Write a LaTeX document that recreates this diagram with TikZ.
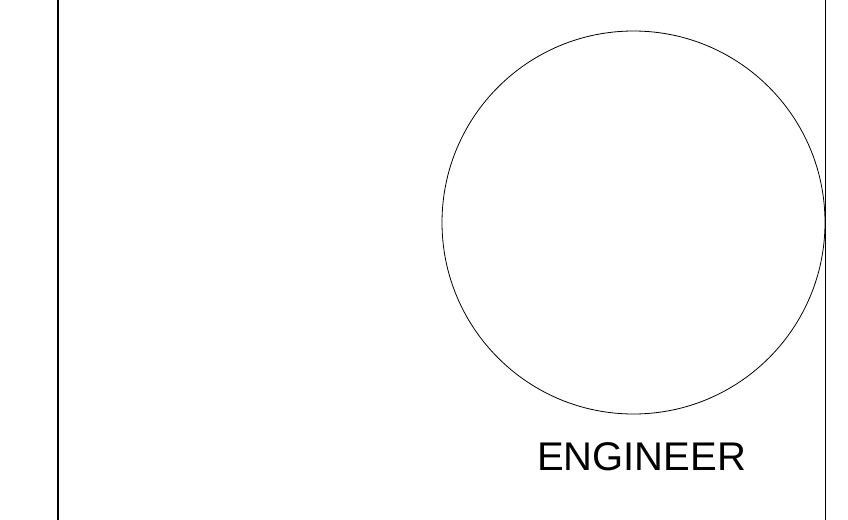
\documentclass[tikz,border=0pt]{standalone}
\usepackage{fontspec}
\setmainfont{Liberation Sans}
\usetikzlibrary{positioning}

\begin{document}
\begin{tikzpicture}[
    x=1pt, y=-1pt,
    frame/.style={draw, line width=1.5pt},
    venn/.style={circle, draw, line width=0.8pt, minimum size=383pt, inner sep=0pt},
    setlabel/.style={font=\fontsize{40}{48}\selectfont, inner sep=0pt}
]
    % Page size
    \useasboundingbox (0,0) rectangle (848,519);
    \clip (0,0) rectangle (848,519);

    % Universe
    \node[frame, minimum width=767.5pt, minimum height=560pt, inner sep=0pt] (universe) at (441.75,259.5) {};

    % Set
    \node[venn] (engineer) at (633.5,222.5) {};

    % Label
    \node[setlabel] (engineerlabel) at (641.5,457) {ENGINEER};

\end{tikzpicture}
\end{document}
